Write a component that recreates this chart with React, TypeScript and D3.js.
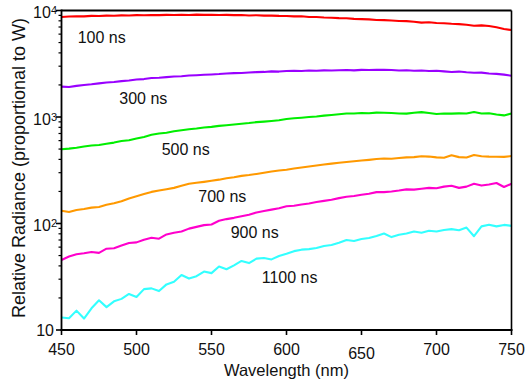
import React from 'react';
import * as d3 from 'd3';

const wavelengths = [450,455,460,465,470,475,480,485,490,495,500,505,510,515,520,525,530,535,540,545,550,555,560,565,570,575,580,585,590,595,600,605,610,615,620,625,630,635,640,645,650,655,660,665,670,675,680,685,690,695,700,705,710,715,720,725,730,735,740,745,750];

const r100 = [8700,8780,8820,8800,8900,8870,8950,8920,9000,8980,9050,9010,9080,9040,9100,9060,9120,9080,9150,9090,9120,9060,9100,9040,9060,8990,9020,8950,8960,8900,8880,8800,8820,8700,8680,8600,8560,8480,8450,8350,8300,8250,8150,8120,8050,7980,7950,7850,7700,7750,7620,7600,7500,7450,7350,7200,7250,7150,6950,6700,6550];
const r300 = [1930,1910,1960,2000,2030,2070,2110,2130,2170,2200,2250,2270,2320,2340,2370,2400,2410,2450,2470,2490,2510,2530,2560,2580,2590,2620,2640,2650,2680,2670,2700,2720,2700,2730,2720,2740,2730,2750,2760,2740,2770,2760,2780,2770,2760,2730,2750,2720,2730,2700,2720,2680,2650,2670,2630,2600,2610,2560,2540,2500,2440];
const r500 = [498,505,515,528,540,545,560,575,595,605,628,650,680,700,712,735,750,768,780,797,808,825,838,850,865,878,895,905,918,932,958,972,985,1000,1012,1030,1045,1062,1080,1078,1090,1085,1100,1095,1090,1080,1075,1095,1112,1090,1068,1080,1075,1082,1078,1115,1080,1085,1055,1035,1080];
const r700 = [132,128,134,137,141,143,150,155,162,172,180,189,198,204,210,216,226,236,241,246,252,258,266,272,280,285,292,300,308,315,320,328,336,343,350,358,365,372,378,384,390,396,403,408,406,412,418,420,428,425,418,415,438,420,416,440,428,425,424,422,430];
const r900 = [45.5,49.0,51.5,52.5,54.0,53.0,58.0,58.5,62.0,65.5,66.5,70.5,73.5,72.0,79.0,82.0,84.0,89.5,93.0,96.5,98.0,106,110,113,117,121,127,131,135,139,145,147,151,154,159,163,167,173,178,181,186,190,197,197,200,204,209,208,212,216,214,222,226,216,222,236,227,232,240,220,236];
const r1100 = [13.1,12.9,15.2,12.8,16.0,19.0,16.4,18.6,19.6,21.8,20.4,24.2,24.6,23.2,26.8,28.4,32.8,30.4,32.0,35.4,34.2,39.4,37.2,40.5,44.5,42.5,46.8,47.5,46.0,49.5,52.0,55.0,56.8,57.5,58.8,61.5,62.8,66.0,70.0,68.5,71.5,73.0,76.5,80.5,74.5,78.5,80.5,84.0,82.0,85.5,84.0,87.0,88.5,86.5,91.5,76.0,94.0,97.5,94.0,97.0,95.0];

const seriesValues = [r100, r300, r500, r700, r900, r1100];
const seriesNames = ['100 ns', '300 ns', '500 ns', '700 ns', '900 ns', '1100 ns'];
const seriesColors = ['#ff0000', '#9900ff', '#00ee00', '#ff9900', '#ff00cc', '#33ffff'];

const xTicks = [450, 500, 550, 600, 650, 700, 750];
const yMajor = [10, 100, 1000, 10000];
const yMajorExp = ['', '2', '3', '4'];

const FONT = "Arial, 'Liberation Sans', sans-serif";

export default function App() {
  const W = 530, H = 385;
  const left = 61.5, right = 511.5, top = 10.5, bottom = 330;
  const x = d3.scaleLinear().domain([450, 750]).range([left, right]);
  const y = d3.scaleLog().domain([10, 10000]).range([bottom, top]);

  const line = d3.line<number>()
    .x((_, i) => x(wavelengths[i]))
    .y(d => y(d));

  const yMinor: number[] = [];
  for (let e = 1; e < 4; e++) {
    for (let k = 2; k <= 9; k++) yMinor.push(k * Math.pow(10, e));
  }

  // label layout (pixels)
  const labelPos = [
    [77.7, 43], [119.3, 104], [161.7, 155], [198.3, 201.5], [230.7, 238], [261.7, 282.5],
  ];

  return (
    <svg width={W} height={H} style={{ position: 'absolute', left: 0, top: 0, background: '#fff' }}
      fontFamily={FONT}>
      <defs>
        <clipPath id="plotclip">
          <rect x={left} y={top - 5} width={right - left} height={bottom - top + 5} />
        </clipPath>
      </defs>
      <g clipPath="url(#plotclip)">
        {seriesValues.map((vals, i) => (
          <path key={i} d={line(vals) || ''} fill="none" stroke={seriesColors[i]}
            strokeWidth={2.1} strokeLinejoin="round" />
        ))}
      </g>
      {seriesNames.map((n, i) => (
        <text key={n} x={labelPos[i][0]} y={labelPos[i][1]} fontSize={16} fill="#111">{n}</text>
      ))}
      {/* frame */}
      <line x1={left} x2={right} y1={top} y2={top} stroke="#000" strokeWidth={2} />
      <line x1={right} x2={right} y1={top} y2={bottom} stroke="#000" strokeWidth={1.6} />
      <line x1={left} x2={left} y1={top - 1} y2={bottom + 1} stroke="#000" strokeWidth={1.8} />
      <line x1={left - 1} x2={right + 1} y1={bottom} y2={bottom} stroke="#000" strokeWidth={1.8} />
      {/* x ticks */}
      {xTicks.map(t => (
        <g key={t}>
          <line x1={x(t)} x2={x(t)} y1={bottom} y2={bottom + 5} stroke="#000" strokeWidth={1.6} />
          <text x={x(t)} y={t === 650 ? 358.5 : 354.5} textAnchor="middle" fontSize={16} fill="#111">{t}</text>
        </g>
      ))}
      {/* y ticks */}
      {yMinor.map(t => (
        <line key={t} x1={left - 3} x2={left} y1={y(t)} y2={y(t)} stroke="#000" strokeWidth={1.2} />
      ))}
      {yMajor.map((t, i) => (
        <g key={t}>
          <line x1={left - 5.5} x2={left} y1={y(t)} y2={y(t)} stroke="#000" strokeWidth={1.6} />
          {i === 0 ? (
            <text x={54} y={y(t) + 5.8} textAnchor="end" fontSize={16} fill="#111">10</text>
          ) : (
            <text x={57} y={y(t) + 7.7} textAnchor="end" fontSize={16} fill="#111">
              10<tspan fontSize={11} dy={-4}>{yMajorExp[i]}</tspan>
            </text>
          )}
        </g>
      ))}
      {/* axis titles */}
      <text x={(left + right) / 2} y={376} textAnchor="middle" fontSize={16.5} fill="#111">Wavelength (nm)</text>
      <text transform={`translate(25,168) rotate(-90)`} textAnchor="middle" fontSize={18} fill="#111">
        Relative Radiance (proportional to W)
      </text>
    </svg>
  );
}
